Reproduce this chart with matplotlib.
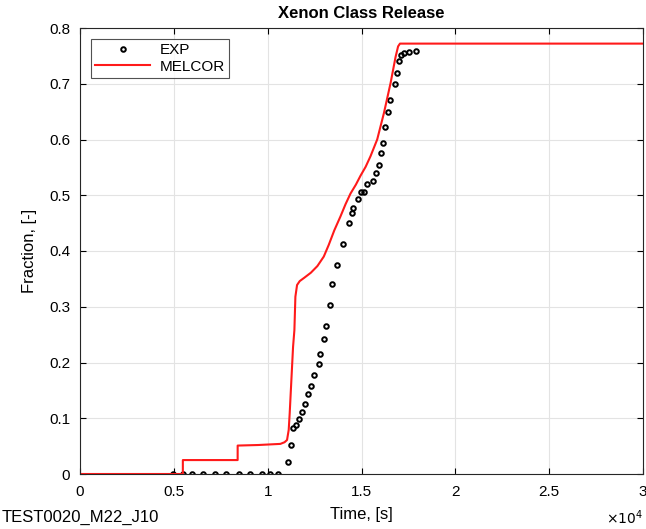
import numpy as np
import matplotlib.pyplot as plt
from matplotlib.ticker import FuncFormatter

plt.rcParams["font.family"] = ["Liberation Sans", "DejaVu Sans"]

# experimental points (time [s], fraction [-])
exp_t = [4980, 5480, 5960, 6580, 7190, 7790, 8450, 9070, 9680, 10140, 10570,
         11070, 11250, 11370, 11520, 11690, 11833, 11975, 12171, 12313, 12491,
         12710, 12800, 13015, 13132, 13310, 13435, 13683, 14003, 14341, 14484,
         14573, 14822, 14982, 15125, 15290, 15614, 15757, 15944, 16050, 16150,
         16228, 16388, 16531, 16761, 16904, 17011, 17100, 17260, 17527, 17883]
exp_f = [0.0, 0.0, 0.0, 0.0, 0.0, 0.0, 0.0, 0.0, 0.0, 0.0, 0.0,
         0.022, 0.052, 0.082, 0.088, 0.099, 0.112, 0.125, 0.143, 0.157, 0.177,
         0.198, 0.216, 0.243, 0.265, 0.304, 0.340, 0.375, 0.413, 0.450, 0.469,
         0.478, 0.493, 0.506, 0.506, 0.520, 0.526, 0.540, 0.555, 0.576, 0.594,
         0.623, 0.650, 0.670, 0.699, 0.720, 0.740, 0.752, 0.755, 0.757, 0.759]

# MELCOR calculation
mel_t = [0, 5480, 5481, 8400, 8401, 9500, 10676, 10900, 11032, 11121, 11174, 11264,
         11353, 11424, 11477, 11566, 11708, 11950, 12300, 12650, 12990, 13255,
         13550, 13879, 14150, 14413, 14700, 14947, 15220, 15480, 15836, 16192,
         16548, 16815, 16950, 17050, 30000]
mel_f = [0.0, 0.0, 0.025, 0.025, 0.051, 0.052, 0.054, 0.057, 0.061, 0.079, 0.109, 0.169,
         0.228, 0.258, 0.318, 0.339, 0.346, 0.352, 0.361, 0.373, 0.390, 0.411,
         0.437, 0.462, 0.484, 0.503, 0.519, 0.535, 0.551, 0.570, 0.600, 0.647,
         0.701, 0.748, 0.767, 0.772, 0.772]

fig = plt.figure(figsize=(6.46, 5.29), dpi=100)
ax = fig.add_axes([80 / 646, 1 - 474 / 529, 563 / 646, 446 / 529])

ax.plot(exp_t, exp_f, "o", ms=3.3, mfc="none", mec="black", mew=1.4,
        color="black", label="EXP")
ax.plot(mel_t, mel_f, "-", color="#ff1a1a", lw=1.5, label="MELCOR")

ax.set_xlim(0, 30000)
ax.set_ylim(0, 0.8)
ax.set_xticks(np.arange(0, 30001, 5000))
ax.set_yticks(np.arange(0, 0.81, 0.1))
ax.xaxis.set_major_formatter(FuncFormatter(lambda v, p: f"{v / 1e4:g}"))
ax.yaxis.set_major_formatter(FuncFormatter(lambda v, p: f"{v:.1f}" if v else "0"))
ax.tick_params(direction="in", labelsize=11, length=4, top=True, right=True)
ax.tick_params(axis="x", pad=8)
ax.tick_params(axis="y", pad=7)
ax.grid(True, color="#e3e3e3", lw=0.8)
ax.set_axisbelow(True)
for s in ax.spines.values():
    s.set_color("#262626")
    s.set_linewidth(0.8)

ax.set_title("Xenon Class Release", fontsize=12, fontweight="bold", pad=7)
ax.set_xlabel("Time, [s]", fontsize=12, labelpad=6)
ax.set_ylabel("Fraction, [-]", fontsize=12, labelpad=9)

fig.text(643 / 646, 1 - 518 / 529, r"$\times10^4$", fontsize=10, va="center", ha="right")
fig.text(2 / 646, 1 - 517 / 529, "TEST0020_M22_J10", fontsize=12, va="center", ha="left")

leg = ax.legend(loc="upper left", fontsize=11, frameon=True, fancybox=False,
                edgecolor="#262626", borderpad=0.3, handlelength=3.6,
                handletextpad=0.6, labelspacing=0.15, borderaxespad=0.7)
leg.get_frame().set_linewidth(0.8)

fig.savefig("out.png", dpi=100)
